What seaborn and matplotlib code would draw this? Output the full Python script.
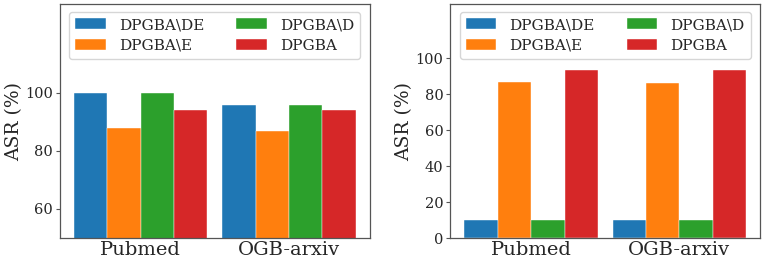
import matplotlib
matplotlib.use('Agg')
import matplotlib.pyplot as plt
import pandas as pd
import seaborn as sns

#data
datasets = ['Pubmed', 'OGB-arxiv']
methods = ['DPGBA\\DE', 'DPGBA\\E', 'DPGBA\\D', 'DPGBA']
colors = ['#1f77b4', '#ff7f0e', '#2ca02c', '#d62728']

#left panel
asr_left = {
    'DPGBA\\DE': [100.0, 95.6],
    'DPGBA\\E': [88.0, 86.9],
    'DPGBA\\D': [100.0, 95.7],
    'DPGBA': [94.2, 94.0],
}
#right panel
asr_right = {
    'DPGBA\\DE': [10.0, 10.0],
    'DPGBA\\E': [86.8, 86.1],
    'DPGBA\\D': [10.0, 10.0],
    'DPGBA': [93.4, 93.4],
}


def to_long(d):
    rows = []
    for m in methods:
        for ds, v in zip(datasets, d[m]):
            rows.append({'dataset': ds, 'method': m, 'ASR': v})
    return pd.DataFrame(rows)


sns.set_style('white')
plt.rcParams['font.family'] = ['DejaVu Serif']

fig, axes = plt.subplots(1, 2, figsize=(7.64, 2.66), dpi=100)

panels = [(asr_left, (50, 130.5), [60, 80, 100]),
          (asr_right, (0, 130), [0, 20, 40, 60, 80, 100])]

for ax, (d, ylim, yticks) in zip(axes, panels):
    df = to_long(d)
    sns.barplot(data=df, x='dataset', y='ASR', hue='method',
                hue_order=methods, palette=colors, saturation=1,
                width=0.9, gap=0, edgecolor='#ffffff', linewidth=0.3,
                ax=ax)
    ax.set_xlim(-0.545, 1.545)
    ax.set_ylim(*ylim)
    ax.set_yticks(yticks)
    ax.set_xlabel('')
    ax.set_ylabel('ASR (%)', fontsize=13.5)
    ax.yaxis.set_label_coords(-0.12, 0.5)
    ax.tick_params(axis='y', labelsize=10.5, length=3, width=0.8, pad=2,
                   left=True, color='#555555')
    ax.tick_params(axis='x', labelsize=14, length=0, pad=2)
    for s in ax.spines.values():
        s.set_color('#555555')
        s.set_linewidth(0.9)
    ax.legend(loc='upper center', ncol=2, fontsize=11, frameon=True,
              handlelength=2.0, handletextpad=0.85, columnspacing=2.1,
              borderaxespad=0.52, labelspacing=0.45)

fig.subplots_adjust(left=0.0785, right=0.995, top=0.985, bottom=0.105, wspace=0.26)
fig.savefig('out.png', dpi=100)
